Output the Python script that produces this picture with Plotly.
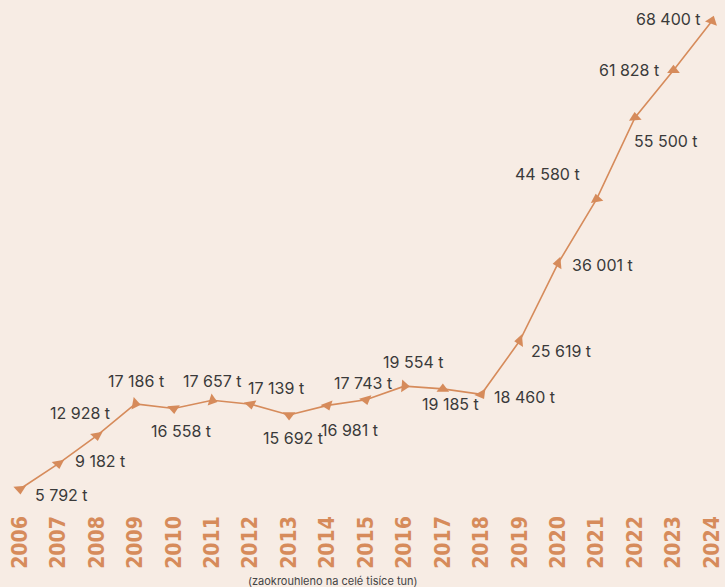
import plotly.graph_objects as go

years = [str(y) for y in range(2006, 2025)]
values = [5792, 9182, 12928, 17186, 16558, 17657, 17139, 15692, 16981, 17743,
          19554, 19185, 18460, 25619, 36001, 44580, 55500, 61828, 68400]
labels = ["5 792 t", "9 182 t", "12 928 t", "17 186 t", "16 558 t", "17 657 t",
          "17 139 t", "15 692 t", "16 981 t", "17 743 t", "19 554 t", "19 185 t",
          "18 460 t", "25 619 t", "36 001 t", "44 580 t", "55 500 t", "61 828 t",
          "68 400 t"]
footnote = "(zaokrouhleno na celé tisíce tun)"

# styling: label offsets (px, dx right / dy down) and marker orientations (deg)
label_offsets = [(42, 6), (42, -3), (-17, -23), (1, -23), (7, 22), (0, -19),
                 (25, -16), (4, 23), (22, 25), (-3, -17), (9, -24), (8, 15),
                 (43, 3), (41, 10), (44, 2), (-49, -25), (31, 24), (-44, 0), (-43, -2)]
marker_angles = [175, 170, 170, 100, 175, 108, 170, 180, 160, 165, 95, 0,
                 150, 265, 265, 350, 355, 0, 20]

BG = "#f7ece4"
ORANGE = "#d68b5b"
TEXT = "#3a3a3a"

fig = go.Figure()
fig.add_trace(go.Scatter(
    x=years, y=values, mode="lines+markers",
    line=dict(color=ORANGE, width=1.6),
    marker=dict(symbol="triangle-up", size=11, color=ORANGE, angleref="up",
                angle=marker_angles),
    cliponaxis=False, hoverinfo="skip", showlegend=False,
))

annotations = []
for i, (v, lab, (dx, dy)) in enumerate(zip(values, labels, label_offsets)):
    annotations.append(dict(
        x=i, y=v, xref="x", yref="y", text=lab, showarrow=False,
        xanchor="center", yanchor="middle", xshift=dx, yshift=-dy,
        font=dict(family="Inter, Roboto, sans-serif", size=16, color=TEXT)))
annotations.append(dict(
    text=footnote, x=333 / 725, y=-0.137, xref="paper", yref="paper",
    showarrow=False, xanchor="center", yanchor="middle",
    font=dict(family="Inter, Roboto, sans-serif", size=11, color="#444444")))

fig.update_layout(
    width=725, height=587,
    paper_bgcolor=BG, plot_bgcolor=BG,
    margin=dict(l=0, r=0, t=0, b=76, autoexpand=False),
    xaxis=dict(type="category", range=[-0.52, 18.34], showgrid=False, zeroline=False,
               showline=False, ticks="", tickangle=-90, automargin=False,
               tickfont=dict(family="DejaVu Sans Condensed, Liberation Sans Narrow, Roboto, sans-serif",
                             size=21, color=ORANGE, weight="bold")),
    yaxis=dict(range=[2850, 71211], visible=False, showgrid=False, zeroline=False,
               automargin=False),
    annotations=annotations,
)

fig.write_html("out.html", config={"displayModeBar": False},
               post_script="document.body.style.margin='0';document.body.style.background='" + BG + "';")
